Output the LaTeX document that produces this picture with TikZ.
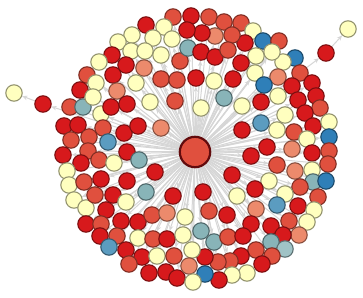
\documentclass[tikz,border=0pt]{standalone}
\usetikzlibrary{arrows.meta,backgrounds}
\definecolor{rojo}{HTML}{D7191C}
\definecolor{coral}{HTML}{E0503E}
\definecolor{durazno}{HTML}{EC8A6C}
\definecolor{crema}{HTML}{FFFFBF}
\definecolor{verdoso}{HTML}{88B4B8}
\definecolor{azul}{HTML}{2F7FB8}
\definecolor{celeste}{HTML}{5B9CC0}
\definecolor{arista}{HTML}{D6D6D6}

\begin{document}
\begin{tikzpicture}[x=0.5pt,y=-0.5pt,
   nodo/.style={circle,inner sep=0pt,minimum size=8.2pt,line width=0.55pt},
   centro/.style={circle,inner sep=0pt,minimum size=15.2pt,fill=coral,draw=rojo!45!black,line width=1.1pt},
   enlace/.style={draw=arista,line width=0.5pt,-{Stealth[length=2.6pt,width=2.2pt]}}]

  \useasboundingbox (0,0) rectangle (363,298);

  % nodo central
  \node[centro] (c) at (195,152) {};

  % vecinos
  \foreach \x/\y/\c [count=\i] in {
    14/93/crema, 43/104/rojo, 70/107/coral, 83/107/verdoso, 101/114/crema,
    64/126/rojo, 78/125/rojo, 103/128/coral, 124/133/rojo, 138/126/rojo,
    161/128/durazno, 71/140/coral, 89/137/coral, 108/142/celeste, 173/17/coral,
    146/25/rojo, 164/27/crema, 132/35/crema, 118/42/crema, 153/38/crema,
    172/39/crema, 131/51/crema, 145/51/crema, 161/55/crema, 112/55/rojo,
    99/62/crema, 126/65/rojo, 144/68/durazno, 180/61/coral, 87/75/coral,
    113/75/rojo, 96/83/crema, 136/83/crema, 161/79/coral, 177/80/coral,
    80/90/rojo, 93/97/crema, 117/91/durazno, 111/107/rojo, 127/104/rojo,
    150/102/crema, 175/101/coral, 191/16/rojo, 209/17/coral, 224/22/coral,
    241/23/coral, 253/31/crema, 263/41/azul, 279/41/coral, 348/29/crema,
    326/53/rojo, 295/58/azul, 283/62/crema, 272/52/crema, 256/56/crema,
    245/43/rojo, 232/35/coral, 215/36/durazno, 202/33/rojo, 187/30/rojo,
    188/48/verdoso, 201/52/rojo, 215/57/rojo, 228/50/coral, 241/63/rojo,
    255/73/crema, 278/77/durazno, 300/73/coral, 312/83/rojo, 292/86/rojo,
    264/85/azul, 316/96/rojo, 298/100/rojo, 278/96/crema, 261/102/rojo,
    233/79/rojo, 214/81/crema, 196/78/rojo, 224/98/verdoso, 242/106/crema,
    201/108/crema, 320/108/coral, 305/113/rojo, 285/115/crema, 261/123/celeste,
    242/130/rojo, 277/130/crema, 294/132/coral, 313/126/rojo, 329/122/crema,
    307/139/crema, 329/137/azul, 267/147/rojo, 63/155/rojo, 88/151/coral,
    81/163/rojo, 99/160/coral, 114/163/crema, 127/152/rojo, 139/160/verdoso,
    67/171/crema, 69/185/crema, 84/182/coral, 101/179/rojo, 127/181/rojo,
    155/172/rojo, 74/200/crema, 86/208/crema, 95/195/coral, 113/195/rojo,
    126/202/crema, 146/192/verdoso, 173/196/rojo, 106/210/rojo, 86/224/rojo,
    101/224/coral, 121/221/rojo, 138/222/rojo, 152/215/coral, 167/213/durazno,
    100/236/rojo, 117/236/coral, 138/238/crema, 153/239/coral, 167/239/rojo,
    109/247/celeste, 126/250/rojo, 142/257/rojo, 157/256/crema, 174/256/coral,
    129/264/coral, 149/273/rojo, 166/272/rojo, 177/278/rojo, 251/156/rojo,
    312/153/rojo, 292/149/durazno, 329/151/coral, 277/165/coral, 295/171/durazno,
    312/170/crema, 328/164/coral, 232/175/rojo, 269/181/crema, 313/182/verdoso,
    326/181/azul, 300/187/coral, 285/194/crema, 255/189/rojo, 203/192/rojo,
    237/196/crema, 277/205/celeste, 298/206/rojo, 318/197/coral, 314/210/crema,
    185/217/crema, 209/211/coral, 227/215/rojo, 256/209/durazno, 289/221/coral,
    307/222/crema, 251/224/rojo, 271/226/rojo, 299/235/durazno, 283/235/rojo,
    183/235/crema, 201/231/verdoso, 214/242/verdoso, 228/237/coral, 243/236/rojo,
    271/242/verdoso, 285/249/verdoso!80!white, 256/250/coral, 272/256/coral, 241/256/rojo,
    230/261/coral, 218/262/coral, 205/257/rojo, 192/250/crema, 189/266/durazno,
    262/264/rojo, 247/273/crema, 232/275/crema, 219/280/rojo, 205/274/azul,
    193/282/crema}
    \node[nodo,fill=\c,draw=\c!58!black] (n\i) at (\x,\y) {};

  % aristas debajo de los nodos
  \begin{pgfonlayer}{background}
    \fill[white] (0,0) rectangle (363,298);
    \foreach \i in {2,...,49,51,52,...,186}
      \draw[enlace] (c) -- (n\i);
    \draw[enlace] (n2) -- (n1);
    \draw[enlace] (n51) -- (n50);
  \end{pgfonlayer}
\end{tikzpicture}
\end{document}
